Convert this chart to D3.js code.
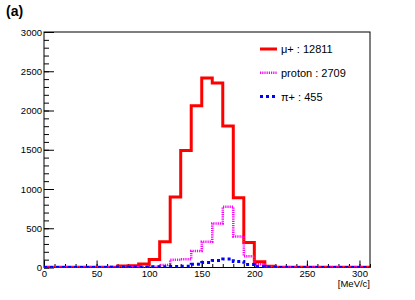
<!DOCTYPE html>
<html>
<head>
<meta charset="utf-8">
<script src="https://cdn.jsdelivr.net/npm/d3@7"></script>
<style>
  body { margin: 0; background: #fff; }
  svg { display: block; font-family: "Liberation Sans", Arial, sans-serif; }
</style>
</head>
<body>
<div id="chart"></div>
<script>
// bin edges: 0..310 step 10 (31 bins)
var binStart = 0, binWidth = 10;
// mu+ counts per bin
var muPlus = [2, 2, 2, 2, 2, 3, 3, 20, 22, 45, 102, 327, 897, 1489, 2059, 2413,
              2349, 1804, 889, 319, 72, 17, 3, 2, 2, 2, 2, 2, 2, 2, 2];
// proton counts per bin
var proton = [0, 0, 0, 0, 0, 0, 0, 1, 2, 4, 10, 32, 100, 105, 210, 327,
              562, 774, 395, 144, 40, 8, 2, 1, 0, 0, 0, 0, 0, 0, 0];
// pi+ counts per bin
var piPlus = [1, 1, 1, 1, 1, 1, 2, 3, 4, 5, 8, 10, 12, 17, 40, 64,
              90, 108, 78, 38, 12, 3, 1, 1, 0, 0, 0, 0, 0, 0, 0];
var legendLabels = ["\u03bc+ : 12811", "proton : 2709", "\u03c0+ : 455"];
var yTicks = [0, 500, 1000, 1500, 2000, 2500, 3000];
var xTicks = [0, 50, 100, 150, 200, 250, 300];

var W = 415, H = 300;
var pL = 44, pR = 370, pT = 32, pB = 267.5;

var svg = d3.select("#chart").append("svg")
    .attr("width", W).attr("height", H);
svg.append("rect").attr("width", W).attr("height", H).attr("fill", "#fff");

var x = d3.scaleLinear().domain([0, 310]).range([pL, pR]);
var y = d3.scaleLinear().domain([0, 3000]).range([pB, pT]);

// clip for the histograms
svg.append("clipPath").attr("id", "clip")
  .append("rect").attr("x", pL).attr("y", pT - 2)
  .attr("width", pR - pL).attr("height", pB - pT + 2);

// frame
svg.append("rect")
    .attr("x", pL).attr("y", pT)
    .attr("width", pR - pL).attr("height", pB - pT)
    .attr("fill", "none").attr("stroke", "#000").attr("stroke-width", 1);

// y axis - major and minor ticks pointing inwards
var yMinor = d3.range(0, 3001, 100);
svg.append("g").attr("transform", "translate(" + pL + ",0)")
    .call(d3.axisLeft(y).tickValues(yMinor).tickSize(-5).tickFormat(""))
    .call(function(g) { g.select(".domain").remove(); });
svg.append("g").attr("transform", "translate(" + pL + ",0)")
    .call(d3.axisLeft(y).tickValues(yTicks).tickSize(-10).tickPadding(2)
      .tickFormat(d3.format("d")))
    .call(function(g) {
      g.select(".domain").remove();
      g.selectAll("text").attr("font-size", "9.5px").attr("fill", "#000")
        .attr("font-family", "Liberation Sans, Arial, sans-serif");
    });

// x axis
var xMinor = d3.range(0, 311, 10);
svg.append("g").attr("transform", "translate(0," + pB + ")")
    .call(d3.axisBottom(x).tickValues(xMinor).tickSize(-3.5).tickFormat(""))
    .call(function(g) { g.select(".domain").remove(); });
svg.append("g").attr("transform", "translate(0," + pB + ")")
    .call(d3.axisBottom(x).tickValues(xTicks).tickSize(-7).tickPadding(3)
      .tickFormat(d3.format("d")))
    .call(function(g) {
      g.select(".domain").remove();
      g.selectAll("text").attr("font-size", "9.5px").attr("fill", "#000")
        .attr("font-family", "Liberation Sans, Arial, sans-serif");
    });

// step outline of a histogram
function stepPoints(vals) {
  var pts = vals.map(function(v, i) { return [binStart + i * binWidth, v]; });
  pts.push([binStart + vals.length * binWidth, vals[vals.length - 1]]);
  return pts;
}
var line = d3.line()
    .x(function(d) { return x(d[0]); })
    .y(function(d) { return y(d[1]); })
    .curve(d3.curveStepAfter);

var series = [
  { data: muPlus, color: "#ff0000", width: 3, dash: null },
  { data: proton, color: "#ff00ff", width: 2.5, dash: "1.2,1" },
  { data: piPlus, color: "#0000ff", width: 3, dash: "3,3" }
];

var hg = svg.append("g").attr("clip-path", "url(#clip)");
series.forEach(function(s) {
  hg.append("path")
    .datum(stepPoints(s.data))
    .attr("d", line)
    .attr("fill", "none")
    .attr("stroke", s.color)
    .attr("stroke-width", s.width)
    .attr("stroke-dasharray", s.dash);
});

// legend
var lg = svg.append("g");
series.forEach(function(s, i) {
  var yy = 49 + i * 23.8;
  lg.append("line")
    .attr("x1", 260).attr("x2", 277).attr("y1", yy).attr("y2", yy)
    .attr("stroke", s.color).attr("stroke-width", s.width)
    .attr("stroke-dasharray", s.dash);
  lg.append("text")
    .attr("x", 281).attr("y", yy + 4)
    .attr("font-size", "11px")
    .text(legendLabels[i]);
});

// labels
svg.append("text").attr("x", 6).attr("y", 16)
    .attr("font-size", "14px").attr("font-weight", "bold").text("(a)");
svg.append("text").attr("x", pR).attr("y", 287)
    .attr("text-anchor", "end").attr("font-size", "9.5px").text("[MeV/c]");
</script>
</body>
</html>
